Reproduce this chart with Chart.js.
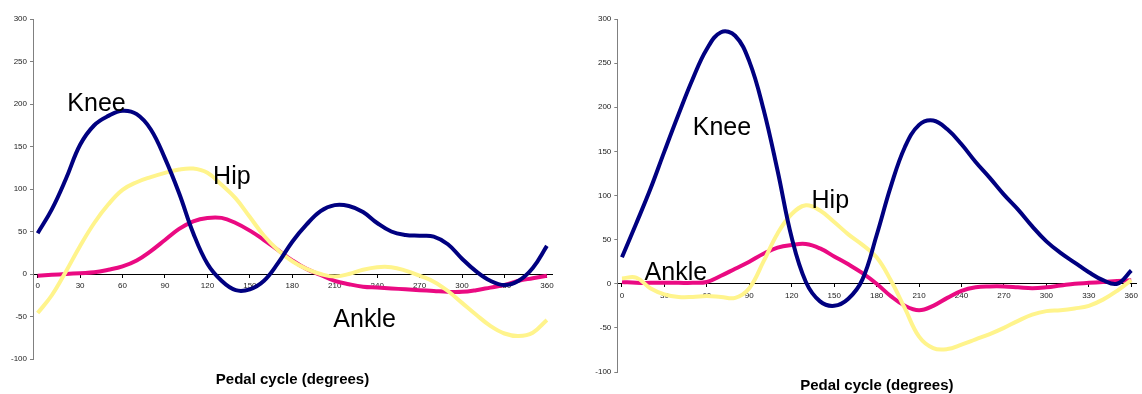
<!DOCTYPE html>
<html>
  <head>
    <title>Pedal cycle joint curves</title>
    <style>
      body { margin: 0; background: #fff; }
      #leftChart { position: absolute; left: 0; top: 0; }
      #rightChart { position: absolute; left: 584px; top: 0; }
    </style>
    <script src="https://cdn.jsdelivr.net/npm/chart.js"></script>
  </head>
  <body>
    <canvas id="leftChart" width="584" height="394"></canvas>
    <canvas id="rightChart" width="558" height="394"></canvas>
    <script>
      // pedal angle in degrees, one sample every 10
      const degrees = [0,10,20,30,40,50,60,70,80,90,100,110,120,130,140,150,160,170,180,
                       190,200,210,220,230,240,250,260,270,280,290,300,310,320,330,340,350,360];
      const xTicks = [0,30,60,90,120,150,180,210,240,270,300,330,360];
      const yTicks = [-100,-50,0,50,100,150,200,250,300];

      // left chart
      const kneeLeft = [48,76,112,152,175,186,192,188,170,136,95,48,12,-8,-19,-18,-8,13,38,
                        58,74,81,80,73,60,50,46,45,44,35,18,3,-8,-13,-8,7,33];
      const hipLeft = [-46,-25,3,33,60,82,99,108,114,119,123,124,119,105,89,67,45,28,15,
                       6,0,-3,0,5,8,8,4,-2,-9,-20,-34,-48,-61,-70,-73,-69,-54];
      const ankleLeft = [-2,-1,0,1,2,5,9,16,27,40,53,62,66,66,60,51,40,28,16,
                         6,-1,-8,-12,-15,-16,-17,-18,-19,-20,-21,-21,-19,-16,-13,-8,-5,-2];

      // right chart
      const kneeRight = [30,68,107,150,192,232,266,285,281,252,198,128,52,2,-20,-25,-17,5,55,
                         110,155,180,185,175,158,138,120,101,84,65,48,35,24,13,4,0,15];
      const hipRight = [6,7,-5,-12,-15,-15,-14,-15,-16,-5,25,57,79,89,83,70,56,44,30,
                        4,-28,-60,-73,-74,-69,-63,-57,-50,-42,-35,-31,-30,-28,-25,-18,-8,4];
      const ankleRight = [2,1,1,1,1,1,2,9,17,25,34,41,44,45,40,31,22,12,0,
                          -14,-25,-30,-25,-16,-8,-4,-3,-3,-4,-5,-4,-2,0,1,2,3,4];

      // curve names, placed in data units (left edge, vertical middle)
      const labelsLeft = [
        { text: 'Knee', x: 21, y: 200 },
        { text: 'Hip', x: 124, y: 114 },
        { text: 'Ankle', x: 209, y: -54 }
      ];
      const labelsRight = [
        { text: 'Knee', x: 50, y: 176 },
        { text: 'Hip', x: 134, y: 94 },
        { text: 'Ankle', x: 16, y: 12 }
      ];

      const fontFamily = '"Liberation Sans", Arial, sans-serif';

      const curveLabels = {
        id: 'curveLabels',
        afterDatasetsDraw(chart, args, opts) {
          const ctx = chart.ctx;
          const xs = chart.scales.x, ys = chart.scales.y;
          ctx.save();
          ctx.font = '25px ' + fontFamily;
          ctx.fillStyle = '#000';
          ctx.textAlign = 'left';
          ctx.textBaseline = 'middle';
          for (const item of opts.items || []) {
            ctx.fillText(item.text, xs.getPixelForValue(item.x), ys.getPixelForValue(item.y));
          }
          ctx.restore();
        }
      };

      function toPoints(values) {
        return values.map((v, i) => ({ x: degrees[i], y: v }));
      }

      function makeChart(id, knee, hip, ankle, labels, cfg) {
        const ctx = document.getElementById(id).getContext('2d');
        return new Chart(ctx, {
          type: 'line',
          data: {
            datasets: [
              { label: 'Knee', data: toPoints(knee), borderColor: '#000080' },
              { label: 'Hip', data: toPoints(hip), borderColor: '#FFF48C' },
              { label: 'Ankle', data: toPoints(ankle), borderColor: '#EA0A82' }
            ]
          },
          plugins: [curveLabels],
          options: {
            responsive: false,
            animation: false,
            layout: { padding: cfg.padding },
            elements: {
              line: { borderWidth: 4, tension: 0.4, fill: false },
              point: { radius: 0 }
            },
            scales: {
              x: {
                type: 'linear',
                position: { y: 0 },
                min: -3.3,
                max: 363.6,
                afterBuildTicks: (scale) => { scale.ticks = xTicks.map(v => ({ value: v })); },
                border: { color: '#000', width: 1 },
                grid: { drawOnChartArea: false, tickLength: 3, color: '#000' },
                ticks: {
                  color: '#222',
                  padding: 4,
                  maxRotation: 0,
                  autoSkip: false,
                  font: { family: fontFamily, size: 8 }
                }
              },
              y: {
                min: -100,
                max: 300,
                afterBuildTicks: (scale) => { scale.ticks = yTicks.map(v => ({ value: v })); },
                afterFit: (scale) => { scale.width = cfg.yWidth; },
                border: { color: '#808080', width: 1 },
                grid: { drawOnChartArea: false, tickLength: 3, color: '#808080' },
                ticks: {
                  color: '#222',
                  padding: 3,
                  font: { family: fontFamily, size: 8 }
                }
              }
            },
            plugins: {
              legend: { display: false },
              tooltip: { enabled: false },
              title: {
                display: true,
                fullSize: false,
                position: 'bottom',
                text: 'Pedal cycle (degrees)',
                color: '#000',
                font: { family: fontFamily, size: 15, weight: 'bold', lineHeight: 1 },
                padding: cfg.titlePadding
              },
              curveLabels: { items: labels }
            }
          }
        });
      }

      makeChart('leftChart', kneeLeft, hipLeft, ankleLeft, labelsLeft, {
        padding: { left: 0, right: 32, top: 19, bottom: 0 },
        yWidth: 33,
        titlePadding: { top: 13, bottom: 7 }
      });

      makeChart('rightChart', kneeRight, hipRight, ankleRight, labelsRight, {
        padding: { left: 0, right: 0, top: 19, bottom: 0 },
        yWidth: 33.3,
        titlePadding: { top: 6, bottom: 1 }
      });
    </script>
  </body>
</html>
